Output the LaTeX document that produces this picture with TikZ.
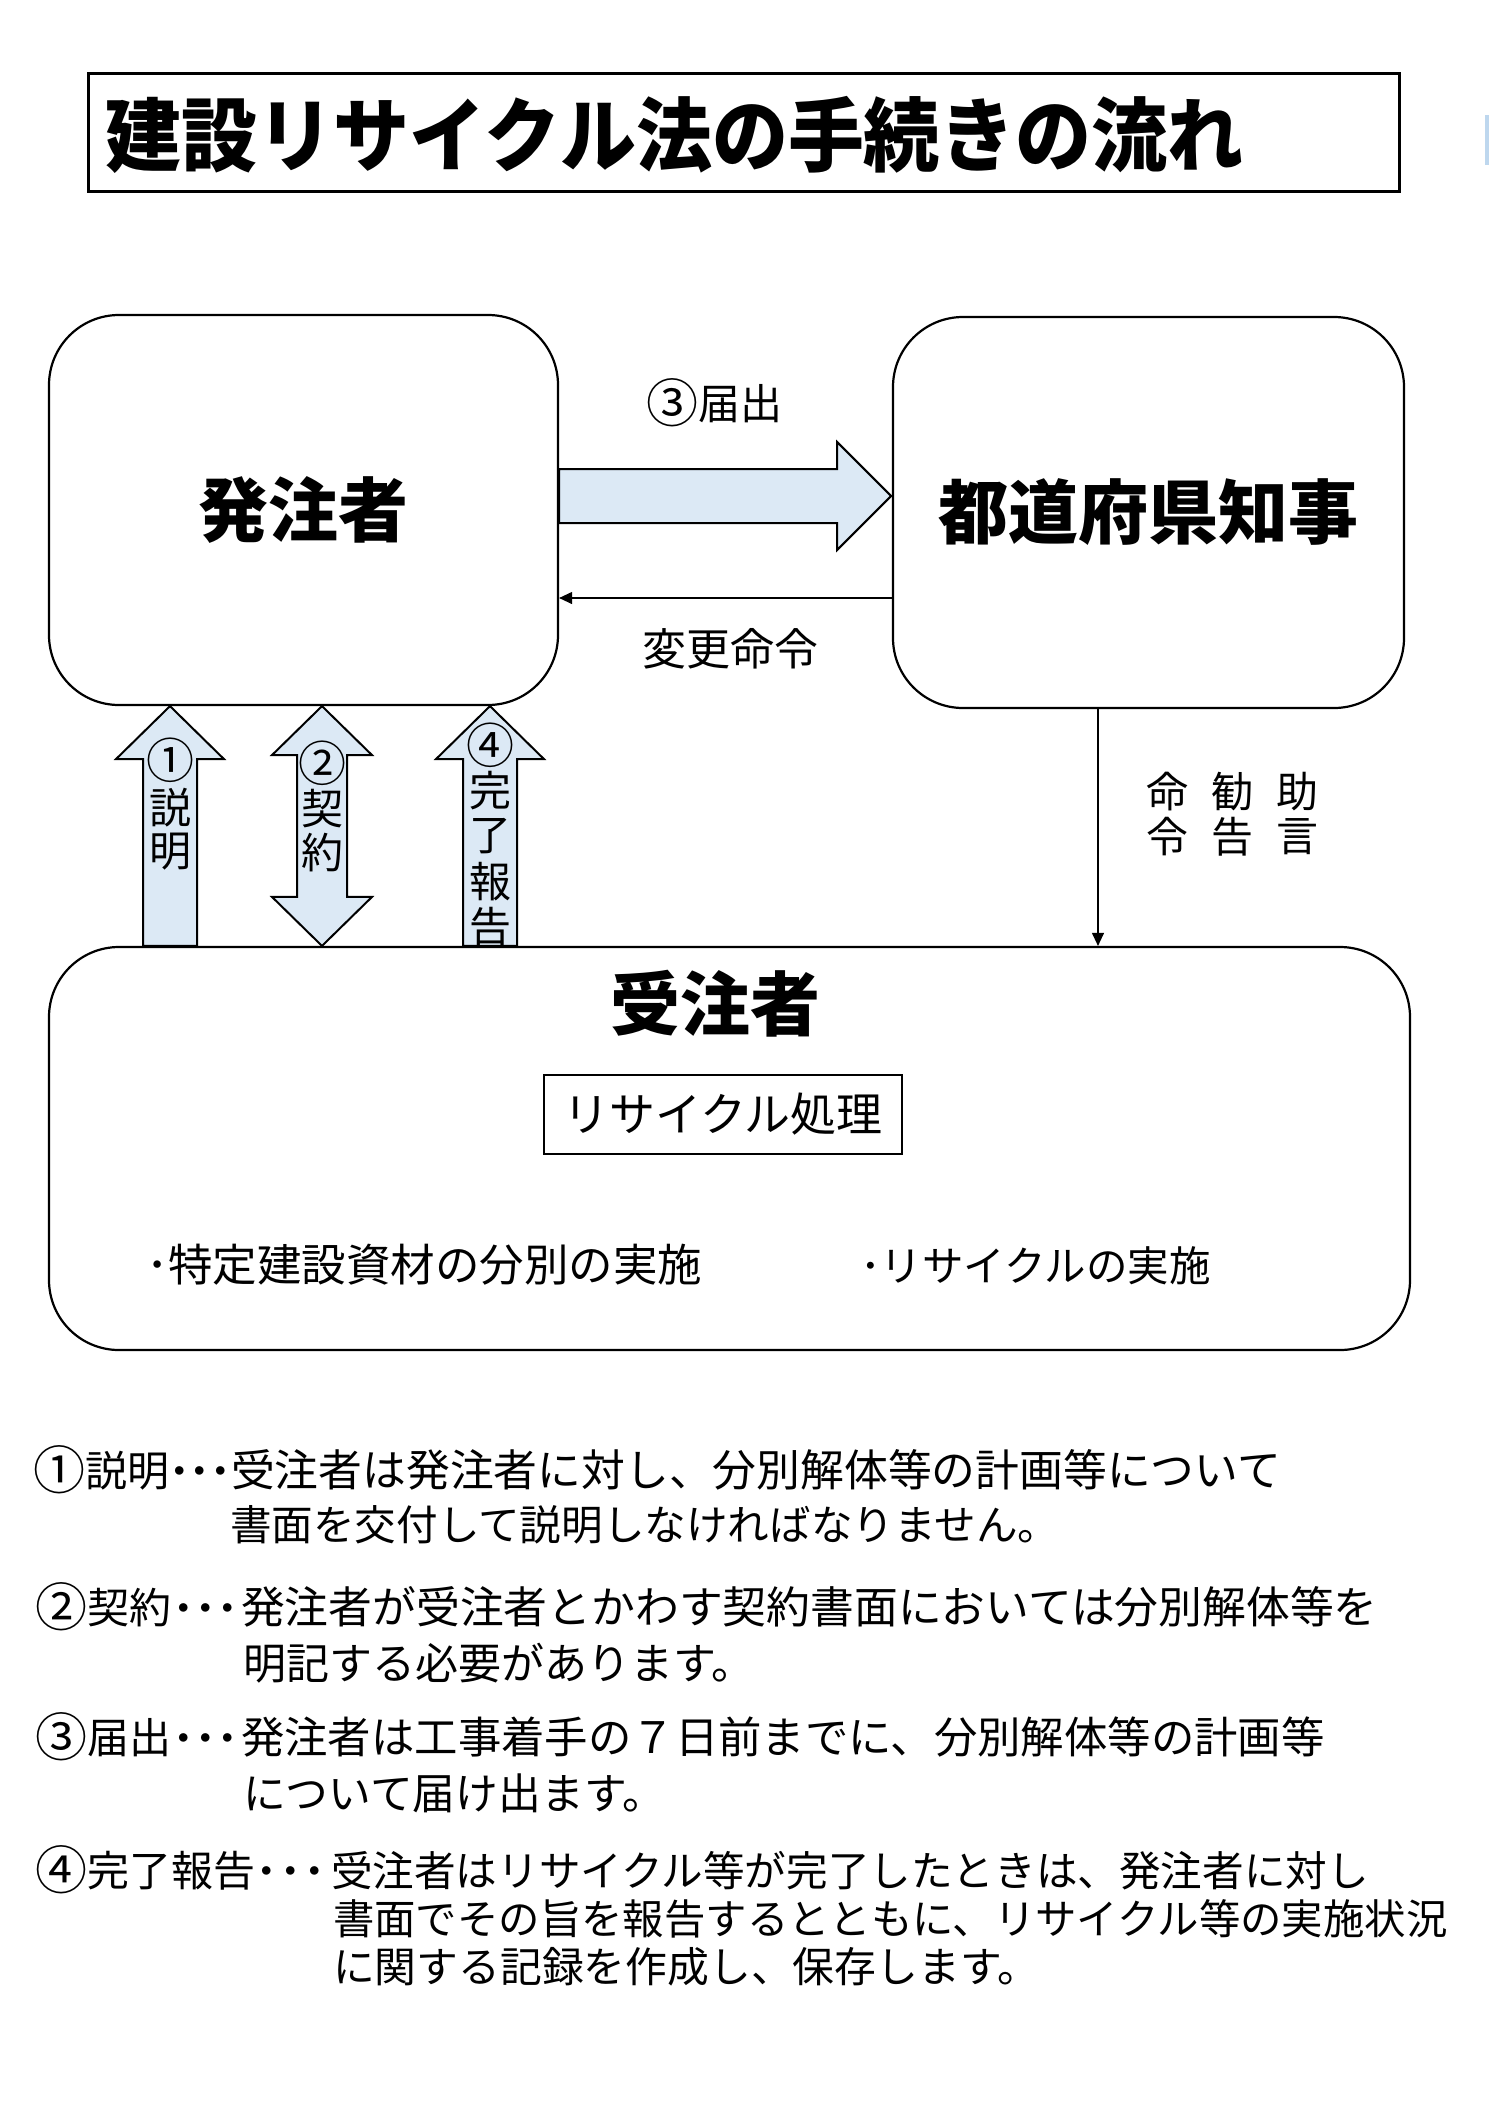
\documentclass[tikz,border=0pt]{standalone}
\usepackage{fontspec}
\setmainfont{Noto Sans CJK JP}
\usetikzlibrary{arrows.meta,calc}
\definecolor{arrowblue}{RGB}{220,233,245}
\definecolor{markblue}{RGB}{190,215,238}
\newcommand{\fsz}[1]{\fontsize{#1}{#1}\selectfont}
\newcommand{\dotbox}[1]{\makebox[#1]{･}}
\newcommand{\tb}[1]{\makebox[75.8pt]{#1}}
\newcommand{\cnum}[1]{\raisebox{-3pt}{\fsz{52}#1}}
\begin{document}
\begin{tikzpicture}[x=1pt,y=-1pt,
  rbox/.style={draw, line width=2.2pt, rounded corners=70pt, inner sep=0pt},
  fatarrow/.style={draw, line width=2pt, fill=arrowblue, line join=miter},
  thinarrow/.style={line width=1.1pt, -{Triangle[length=13pt,width=12pt]}},
  lbl/.style={inner sep=0pt, outer sep=0pt},
  bigbold/.style={lbl, font=\fsz{70}\bfseries},
  alabel/.style={lbl, font=\fsz{42}},
  clabel/.style={lbl, font=\fsz{48}},
  para/.style={lbl, anchor=base west},
  dots/.style={lbl, anchor=base, font=\fsz{41}\bfseries},
]
\useasboundingbox (0,0) rectangle (1489,2105);
\fill[markblue] (1485,115) rectangle (1489,165);

% title
\node[draw, line width=3pt, minimum width=1311pt, minimum height=118pt, inner sep=0pt] (titlebox) at (743.5,132) {};
\node[lbl, anchor=base west, font=\fsz{76}\bfseries] (title) at (106,165)
  {\scalebox{1}[1.06]{\tb{建}\tb{設}\tb{リ}\tb{サ}\tb{イ}\tb{ク}\tb{ル}\tb{法}\tb{の}\tb{手}\tb{続}\tb{き}\tb{の}\tb{流}\tb{れ}}};

% main boxes
\node[rbox, minimum width=509pt, minimum height=390pt, font=\fsz{70}\bfseries] (hac) at (303.5,510) {発注者};
\node[rbox, minimum width=511pt, minimum height=391pt, font=\fsz{70}\bfseries] (todo) at (1148.5,512.5) {都道府県知事};
\node[rbox, minimum width=1361pt, minimum height=403pt] (jyu) at (729.5,1148.5) {};
\node[bigbold] (jyut) at (715,1004) {受注者};
\node[draw, line width=1.5pt, minimum width=358pt, minimum height=79pt, inner sep=0pt, font=\fsz{46}] (proc) at (723,1114.5) {リサイクル処理};
\node[para, font=\fsz{44.5}] (bun) at (146,1281) {･特定建設資材の分別の実施};
\node[para, font=\fsz{41.5}] (rec) at (860,1281) {･リサイクルの実施};

% big arrow (3) todokede
\coordinate (yb) at (0,496);
\coordinate (ba) at (hac.east |- yb);
\draw[fatarrow] ($(ba)+(0,-27)$) -- ++(278,0) -- ++(0,-27) -- ($(ba)+(332,0)$)
  -- ($(ba)+(278,54)$) -- ++(0,-27) -- ($(ba)+(0,27)$) -- cycle;
\node[alabel] (l3) at (714,403) {\cnum{③}届出};

% henko meirei
\coordinate (yc) at (0,598);
\draw[thinarrow] (todo.west |- yc) -- (hac.east |- yc);
\node[lbl, font=\fsz{44}] (henko) at (730,649) {変更命令};

% meirei kankoku jogen
\coordinate (xd) at (1098,0);
\draw[thinarrow] (todo.south -| xd) -- (jyu.north -| xd);
\node[alabel] (m1) at (1167,792) {命};
\node[alabel] (m2) at (1167,837) {令};
\node[alabel] (k1) at (1232,792) {勧};
\node[alabel] (k2) at (1232,837) {告};
\node[alabel] (j1) at (1297,792) {助};
\node[alabel] (j2) at (1297,837) {言};

% vertical fat arrows
\coordinate (a1) at (170,0);
\coordinate (a2) at (322,0);
\coordinate (a4) at (490,0);
\path (hac.south -| a1) coordinate (t1) (jyu.north -| a1) coordinate (b1)
      (hac.south -| a2) coordinate (t2) (jyu.north -| a2) coordinate (b2)
      (hac.south -| a4) coordinate (t4) (jyu.north -| a4) coordinate (b4);
\draw[fatarrow] (t1) -- ++(54,53) -- ++(-27,0) -- ($(b1)+(27,0)$) -- ($(b1)+(-27,0)$)
  -- ($(t1)+(-27,53)$) -- ++(-27,0) -- cycle;
\draw[fatarrow] (t2) -- ++(50,49) -- ++(-25,0) -- ($(b2)+(25,-49)$) -- ++(25,0) -- (b2)
  -- ++(-50,-49) -- ++(25,0) -- ($(t2)+(-25,49)$) -- ++(-25,0) -- cycle;
\draw[fatarrow] (t4) -- ++(54,53) -- ++(-27,0) -- ($(b4)+(27,0)$) -- ($(b4)+(-27,0)$)
  -- ($(t4)+(-27,53)$) -- ++(-27,0) -- cycle;

\node[clabel] (s0) at (170,760) {①};
\node[alabel] (s1) at (170,808) {説};
\node[alabel] (s2) at (170,852) {明};
\node[clabel] (k0) at (322,763) {②};
\node[alabel] (ke1) at (322,809) {契};
\node[alabel] (ke2) at (322,853) {約};
\begin{scope}
\clip (400,690) rectangle (580,945);
\node[clabel] (h0) at (490,745) {④};
\node[alabel] (h1) at (490,791) {完};
\node[alabel] (h2) at (490,836) {了};
\node[alabel] (h3) at (490,882) {報};
\node[alabel] (h4) at (490,927) {告};
\end{scope}

% explanations
\node[para, font=\fsz{42}] (p1) at (33,1486) {\cnum{①}説明};
\node[dots] (d1) at (200,1486) {\dotbox{20.6pt}\dotbox{20.6pt}\dotbox{20.6pt}};
\node[para, font=\fsz{43.8}] (e1) at (231,1486) {受注者は発注者に対し、分別解体等の計画等について};
\node[para, font=\fsz{41.6}] (e2) at (230,1540) {書面を交付して説明しなければなりません。};

\node[para, font=\fsz{42}] (p2) at (35,1623) {\cnum{②}契約};
\node[dots] (d2) at (206,1623) {\dotbox{22pt}\dotbox{22pt}\dotbox{22pt}};
\node[para, font=\fsz{43.8}] (e3) at (241,1623) {発注者が受注者とかわす契約書面においては分別解体等を};
\node[para, font=\fsz{43}] (e4) at (243,1679) {明記する必要があります。};

\node[para, font=\fsz{42}] (p3) at (35,1753) {\cnum{③}届出};
\node[dots] (d3) at (206,1753) {\dotbox{22pt}\dotbox{22pt}\dotbox{22pt}};
\node[para, font=\fsz{43.4}] (e5) at (241,1753) {発注者は工事着手の７日前までに、分別解体等の計画等};
\node[para, font=\fsz{42.8}] (e6) at (243,1809) {について届け出ます。};

\node[para, font=\fsz{42}] (p4) at (35,1886) {\cnum{④}完了報告};
\node[dots] (d4) at (291,1886) {\dotbox{24pt}\dotbox{24pt}\dotbox{24pt}};
\node[para, font=\fsz{41.6}] (e7) at (331,1886) {受注者はリサイクル等が完了したときは、発注者に対し};
\node[para, font=\fsz{41.4}] (e8) at (333,1934) {書面でその旨を報告するとともに、リサイクル等の実施状況};
\node[para, font=\fsz{41.8}] (e9) at (333,1982) {に関する記録を作成し、保存します。};
\end{tikzpicture}
\end{document}
